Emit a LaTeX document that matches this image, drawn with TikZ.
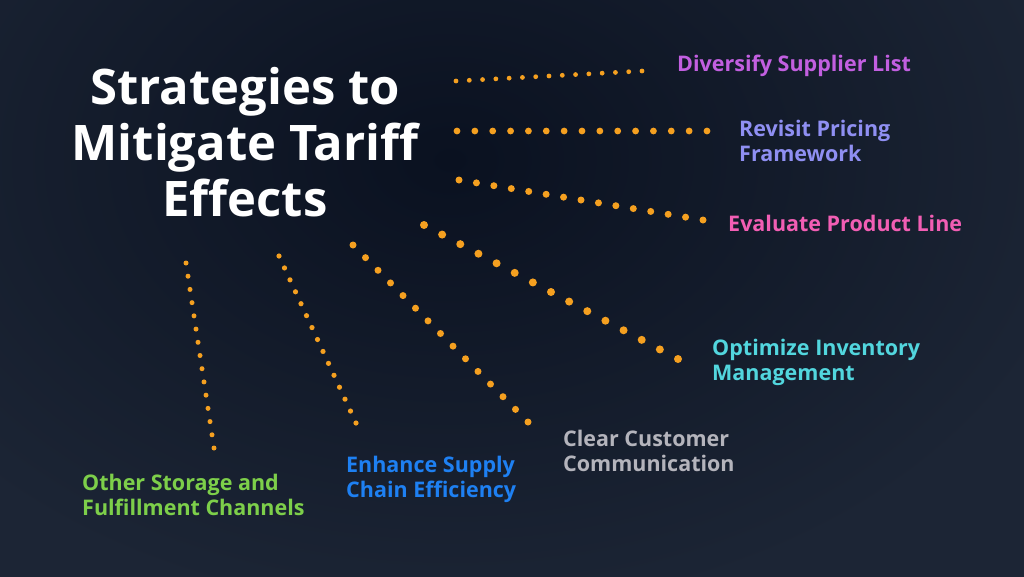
\documentclass[tikz,border=0pt]{standalone}
\usepackage{fontspec}
\setmainfont{Open Sans}
\usetikzlibrary{positioning}
\usetikzlibrary{calc}

\definecolor{bgdark}{HTML}{0A1120}
\definecolor{bglight}{HTML}{1C2535}
\definecolor{dotorange}{HTML}{F5A020}
\definecolor{cpurple}{HTML}{C25FE0}
\definecolor{clavender}{HTML}{8F8FF2}
\definecolor{cpink}{HTML}{F25EB4}
\definecolor{ccyan}{HTML}{52D6DE}
\definecolor{cgray}{HTML}{B4B4BC}
\definecolor{cblue}{HTML}{1E80F2}
\definecolor{cgreen}{HTML}{7DCF4A}

\tikzset{
	strategy/.style = {anchor=west, align=left, inner sep=0pt,
		font=\bfseries\fontsize{21.5}{25}\selectfont},
	headline/.style = {align=center, inner sep=0pt, text=white,
		font=\bfseries\fontsize{49}{56}\selectfont}
}

% fifteen dots from #1 to #2, radius #3
\newcommand{\dotrow}[3]{
	\foreach \k in {0,...,14} {
		\fill[dotorange] ($(#1)!\k/14!(#2)$) circle (#3);
	}
}

\begin{document}
\begin{tikzpicture}[x=1pt, y=-1pt]
		\useasboundingbox (0,0) rectangle (1024,576);
		\shade[inner color=bgdark, outer color=bglight] (-200,-300) rectangle (1100,620);
		
		\node at (245,142) (title) [headline] {Strategies to\\Mitigate Tariff\\Effects};
		
		\node at (677,66) (supplier) [strategy, text=cpurple] {Diversify Supplier List};
		\node at (739,140.5) (pricing) [strategy, text=clavender] {Revisit Pricing\\Framework};
		\node at (728,223) (product) [strategy, text=cpink] {Evaluate Product Line};
		\node at (712,362.5) (inventory) [strategy, text=ccyan] {Optimize Inventory\\Management};
		\node at (563,450.5) (customer) [strategy, text=cgray] {Clear Customer\\Communication};
		\node at (346,479.5) (supply) [strategy, text=cblue] {Enhance Supply\\Chain Efficiency};
		\node at (82,494.5) (storage) [strategy, text=cgreen] {Other Storage and\\Fulfillment Channels};
		
		\coordinate (s1) at (456,81);   \coordinate (e1) at (642,71);
		\coordinate (s2) at (457,131);  \coordinate (e2) at (707,131);
		\coordinate (s3) at (459,180);  \coordinate (e3) at (703,220);
		\coordinate (s4) at (424,225);  \coordinate (e4) at (678,359);
		\coordinate (s5) at (353,245);  \coordinate (e5) at (528,422);
		\coordinate (s6) at (279,256);  \coordinate (e6) at (356,423);
		\coordinate (s7) at (186,263);  \coordinate (e7) at (214,448);
		
		\dotrow{s1}{e1}{2.4}
		\dotrow{s2}{e2}{3.4}
		\dotrow{s3}{e3}{3.5}
		\dotrow{s4}{e4}{4}
		\dotrow{s5}{e5}{3.5}
		\dotrow{s6}{e6}{2.6}
		\dotrow{s7}{e7}{2.5}
	\end{tikzpicture}
\end{document}
